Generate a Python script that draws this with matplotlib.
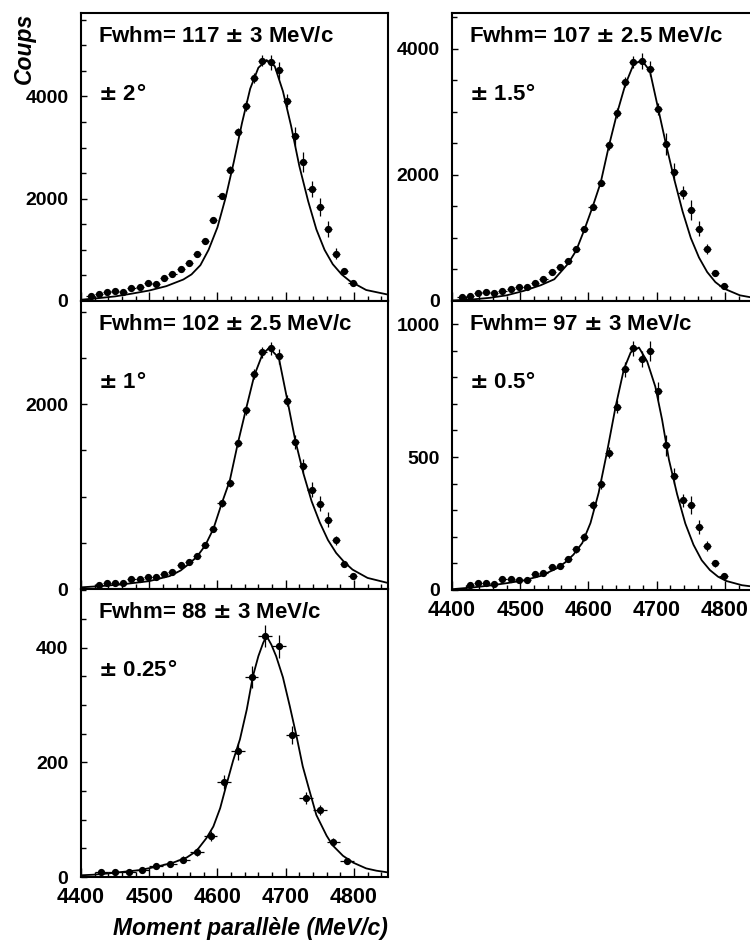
import matplotlib
matplotlib.use("Agg")
import matplotlib.pyplot as plt
from matplotlib.ticker import MultipleLocator

plt.rcParams['font.family'] = ['Liberation Sans', 'DejaVu Sans']
plt.rcParams['font.weight'] = 'bold'
plt.rcParams['mathtext.fontset'] = 'dejavusans'

# -----------------------------
# Data (bins of 12 MeV/c, last panel 20 MeV/c)
# -----------------------------
x12 = [4414, 4426, 4438, 4450, 4462, 4474, 4486, 4498, 4510, 4522, 4534,
       4546, 4558, 4570, 4582, 4594, 4606, 4618, 4630, 4642, 4654, 4666,
       4678, 4690, 4702, 4714, 4726, 4738, 4750, 4762, 4774, 4786, 4798]
x12b = x12[1:]
x20 = [4430, 4450, 4470, 4490, 4510, 4530, 4550, 4570, 4590, 4610, 4630,
       4650, 4670, 4690, 4710, 4730, 4750, 4770, 4790]

# +-2 deg
y_2 = [100, 135, 172, 205, 172, 250, 282, 348, 335, 442, 528, 635, 745, 910,
       1180, 1582, 2060, 2566, 3297, 3811, 4358, 4697, 4665, 4508, 3915, 3218,
       2712, 2189, 1840, 1406, 928, 584, 355]
e_2 = [15, 15, 18, 20, 18, 22, 24, 26, 26, 30, 32, 35, 38, 42, 48, 55, 60, 70,
       80, 90, 100, 110, 140, 170, 130, 190, 200, 160, 180, 150, 100, 50, 30]
fx_2 = [4400, 4425, 4450, 4475, 4500, 4525, 4550, 4562, 4575, 4587, 4600, 4612,
        4624, 4636, 4648, 4660, 4672, 4684, 4696, 4708, 4720, 4733, 4745, 4757,
        4769, 4782, 4794, 4818, 4850]
fy_2 = [25, 55, 90, 145, 205, 290, 420, 520, 700, 1000, 1440, 2020, 2720, 3480,
        4150, 4560, 4710, 4590, 4100, 3420, 2640, 1950, 1400, 1000, 720, 520,
        390, 215, 125]

# +-1.5 deg
y_15 = [69, 85, 122, 143, 122, 164, 196, 217, 217, 291, 344, 460, 534, 640,
        825, 1143, 1497, 1878, 2466, 2979, 3466, 3788, 3809, 3683, 3042, 2487,
        2053, 1720, 1444, 1143, 820, 439, 238]
e_15 = [12, 12, 15, 16, 15, 18, 20, 20, 20, 24, 26, 30, 32, 35, 40, 48, 55, 60,
        70, 75, 80, 90, 130, 120, 90, 170, 130, 105, 160, 120, 80, 40, 25]
fx_15 = [4400, 4430, 4455, 4480, 4505, 4530, 4550, 4570, 4582, 4594, 4606,
         4618, 4630, 4642, 4654, 4666, 4678, 4690, 4702, 4714, 4726, 4738,
         4750, 4762, 4774, 4786, 4798, 4822, 4850]
fy_15 = [8, 25, 50, 90, 160, 250, 345, 590, 800, 1130, 1490, 1880, 2460, 2980,
         3430, 3750, 3820, 3650, 3060, 2470, 1920, 1420, 1000, 690, 460, 300,
         200, 90, 35]

# +-1 deg
y_1 = [43, 69, 69, 60, 105, 105, 125, 125, 163, 183, 264, 292, 362, 473, 650,
       926, 1148, 1583, 1935, 2326, 2561, 2605, 2518, 2036, 1590, 1330, 1076,
       924, 750, 525, 272, 138]
e_1 = [8, 10, 10, 10, 12, 12, 13, 13, 15, 16, 19, 20, 22, 25, 30, 35, 40, 45,
       50, 55, 60, 72, 80, 60, 80, 80, 80, 80, 80, 45, 30, 20]
fx_1 = [4400, 4430, 4460, 4500, 4530, 4546, 4558, 4570, 4582, 4594, 4606, 4618,
        4630, 4642, 4654, 4666, 4676, 4690, 4702, 4714, 4726, 4738, 4750, 4762,
        4774, 4786, 4798, 4820, 4850]
fy_1 = [18, 32, 50, 85, 140, 200, 270, 350, 470, 650, 920, 1170, 1580, 1950,
        2310, 2540, 2610, 2500, 2060, 1610, 1250, 950, 720, 530, 390, 290, 210,
        120, 65]

# +-0.5 deg
y_05 = [17, 26, 28, 23, 41, 41, 38, 38, 61, 64, 86, 91, 117, 154, 199, 318,
        399, 517, 690, 831, 910, 869, 900, 747, 544, 428, 337, 318, 237, 164,
        100, 53]
e_05 = [4, 5, 5, 5, 6, 6, 6, 6, 8, 8, 9, 10, 11, 13, 15, 18, 20, 22, 26, 28,
        28, 31, 38, 34, 40, 31, 25, 34, 28, 19, 12, 8]
fx_05 = [4400, 4432, 4456, 4481, 4505, 4530, 4554, 4566, 4578, 4591, 4603,
         4615, 4627, 4640, 4652, 4662, 4674, 4686, 4698, 4708, 4718, 4730,
         4742, 4754, 4766, 4778, 4790, 4802, 4825, 4850]
fy_05 = [3, 10, 17, 26, 36, 53, 82, 104, 133, 177, 252, 366, 516, 692, 831,
         894, 912, 860, 765, 640, 490, 360, 250, 170, 112, 75, 50, 34, 18, 10]

# +-0.25 deg
y_025 = [8, 9, 9, 12, 20, 22, 30, 44, 72, 165, 219, 349, 420, 402, 247, 138,
         117, 61, 28]
e_025 = [3, 3, 3, 4, 5, 5, 6, 7, 9, 12, 15, 19, 19, 20, 16, 10, 9, 7, 5]
fx_025 = [4400, 4418, 4438, 4462, 4486, 4511, 4535, 4555, 4569, 4584, 4594,
          4604, 4613, 4623, 4633, 4643, 4652, 4660, 4667, 4672, 4679, 4686,
          4696, 4706, 4716, 4725, 4735, 4745, 4760, 4769, 4784, 4799, 4818,
          4833, 4850]
fy_025 = [3, 4, 6, 9, 12, 18, 25, 34, 45, 68, 88, 120, 160, 203, 240, 292, 350,
          385, 408, 420, 405, 385, 348, 298, 245, 193, 150, 108, 72, 55, 37, 25,
          15, 11, 8]

fwhm_labels = ["Fwhm= 117 $\\pm$ 3 MeV/c", "Fwhm= 107 $\\pm$ 2.5 MeV/c",
               "Fwhm= 102 $\\pm$ 2.5 MeV/c", "Fwhm= 97 $\\pm$ 3 MeV/c",
               "Fwhm= 88 $\\pm$ 3 MeV/c"]
angle_labels = ["$\\pm$ 2$\\degree$", "$\\pm$ 1.5$\\degree$", "$\\pm$ 1$\\degree$",
                "$\\pm$ 0.5$\\degree$", "$\\pm$ 0.25$\\degree$"]

# -----------------------------
# Figure
# -----------------------------
W, H = 750, 940
fig = plt.figure(figsize=(7.5, 9.4), dpi=100)


def add_panel(px_left, px_top, px_bottom):
    return fig.add_axes([px_left / W, 1 - px_bottom / H, 307 / W, (px_bottom - px_top) / H])


def draw_panel(ax, xs, ys, errs, xerr, fx, fy, ytop, major, minor, fwhm, angle, xlabels):
    ax.errorbar(xs, ys, yerr=errs, xerr=xerr, fmt='o', ms=4.2, color='k',
                ecolor='k', elinewidth=0.9, capsize=0, zorder=3)
    ax.plot(fx, fy, color='k', lw=1.3, zorder=2)
    ax.set_xlim(4400, 4850)
    ax.set_ylim(0, ytop)
    ax.xaxis.set_major_locator(MultipleLocator(100))
    ax.xaxis.set_minor_locator(MultipleLocator(20))
    ax.yaxis.set_major_locator(MultipleLocator(major))
    ax.yaxis.set_minor_locator(MultipleLocator(minor))
    ax.tick_params(axis='both', which='both', direction='in', top=False, right=False, width=1)
    ax.tick_params(axis='x', which='major', length=6.5, labelsize=15.5, pad=7)
    ax.tick_params(axis='x', which='minor', length=3.5)
    ax.tick_params(axis='y', which='major', length=4.5, labelsize=14, pad=9)
    ax.tick_params(axis='y', which='minor', length=3.3)
    if not xlabels:
        ax.tick_params(axis='x', labelbottom=False)
    for s in ax.spines.values():
        s.set_linewidth(1.5)
    ax.text(0.054, 0.90, fwhm, transform=ax.transAxes, fontsize=16,
            fontweight='bold', va='baseline', ha='left')
    ax.text(0.054, 0.698, angle, transform=ax.transAxes, fontsize=16,
            fontweight='bold', va='baseline', ha='left')


ax1 = add_panel(81, 13, 301)
ax2 = add_panel(452, 13, 301)
ax3 = add_panel(81, 301, 589)
ax4 = add_panel(452, 301, 590)
ax5 = add_panel(81, 589, 877)

draw_panel(ax1, x12, y_2, e_2, 6, fx_2, fy_2, 5630, 2000, 500, fwhm_labels[0], angle_labels[0], False)
draw_panel(ax2, x12, y_15, e_15, 6, fx_15, fy_15, 4567, 2000, 500, fwhm_labels[1], angle_labels[1], False)
draw_panel(ax3, x12b, y_1, e_1, 6, fx_1, fy_1, 3116, 2000, 500, fwhm_labels[2], angle_labels[2], False)
draw_panel(ax4, x12b, y_05, e_05, 6, fx_05, fy_05, 1087, 500, 100, fwhm_labels[3], angle_labels[3], True)
draw_panel(ax5, x20, y_025, e_025, 10, fx_025, fy_025, 502, 200, 50, fwhm_labels[4], angle_labels[4], True)

fig.text(24 / W, 1 - 13 / H, "Coups", rotation=90, ha='center', va='top',
         fontsize=16.5, fontweight='bold', style='italic')
fig.text(388 / W, 1 - 928 / H, "Moment parallèle (MeV/c)", ha='right', va='center',
         fontsize=16.5, fontweight='bold', style='italic')

fig.savefig("out.png", dpi=100)
